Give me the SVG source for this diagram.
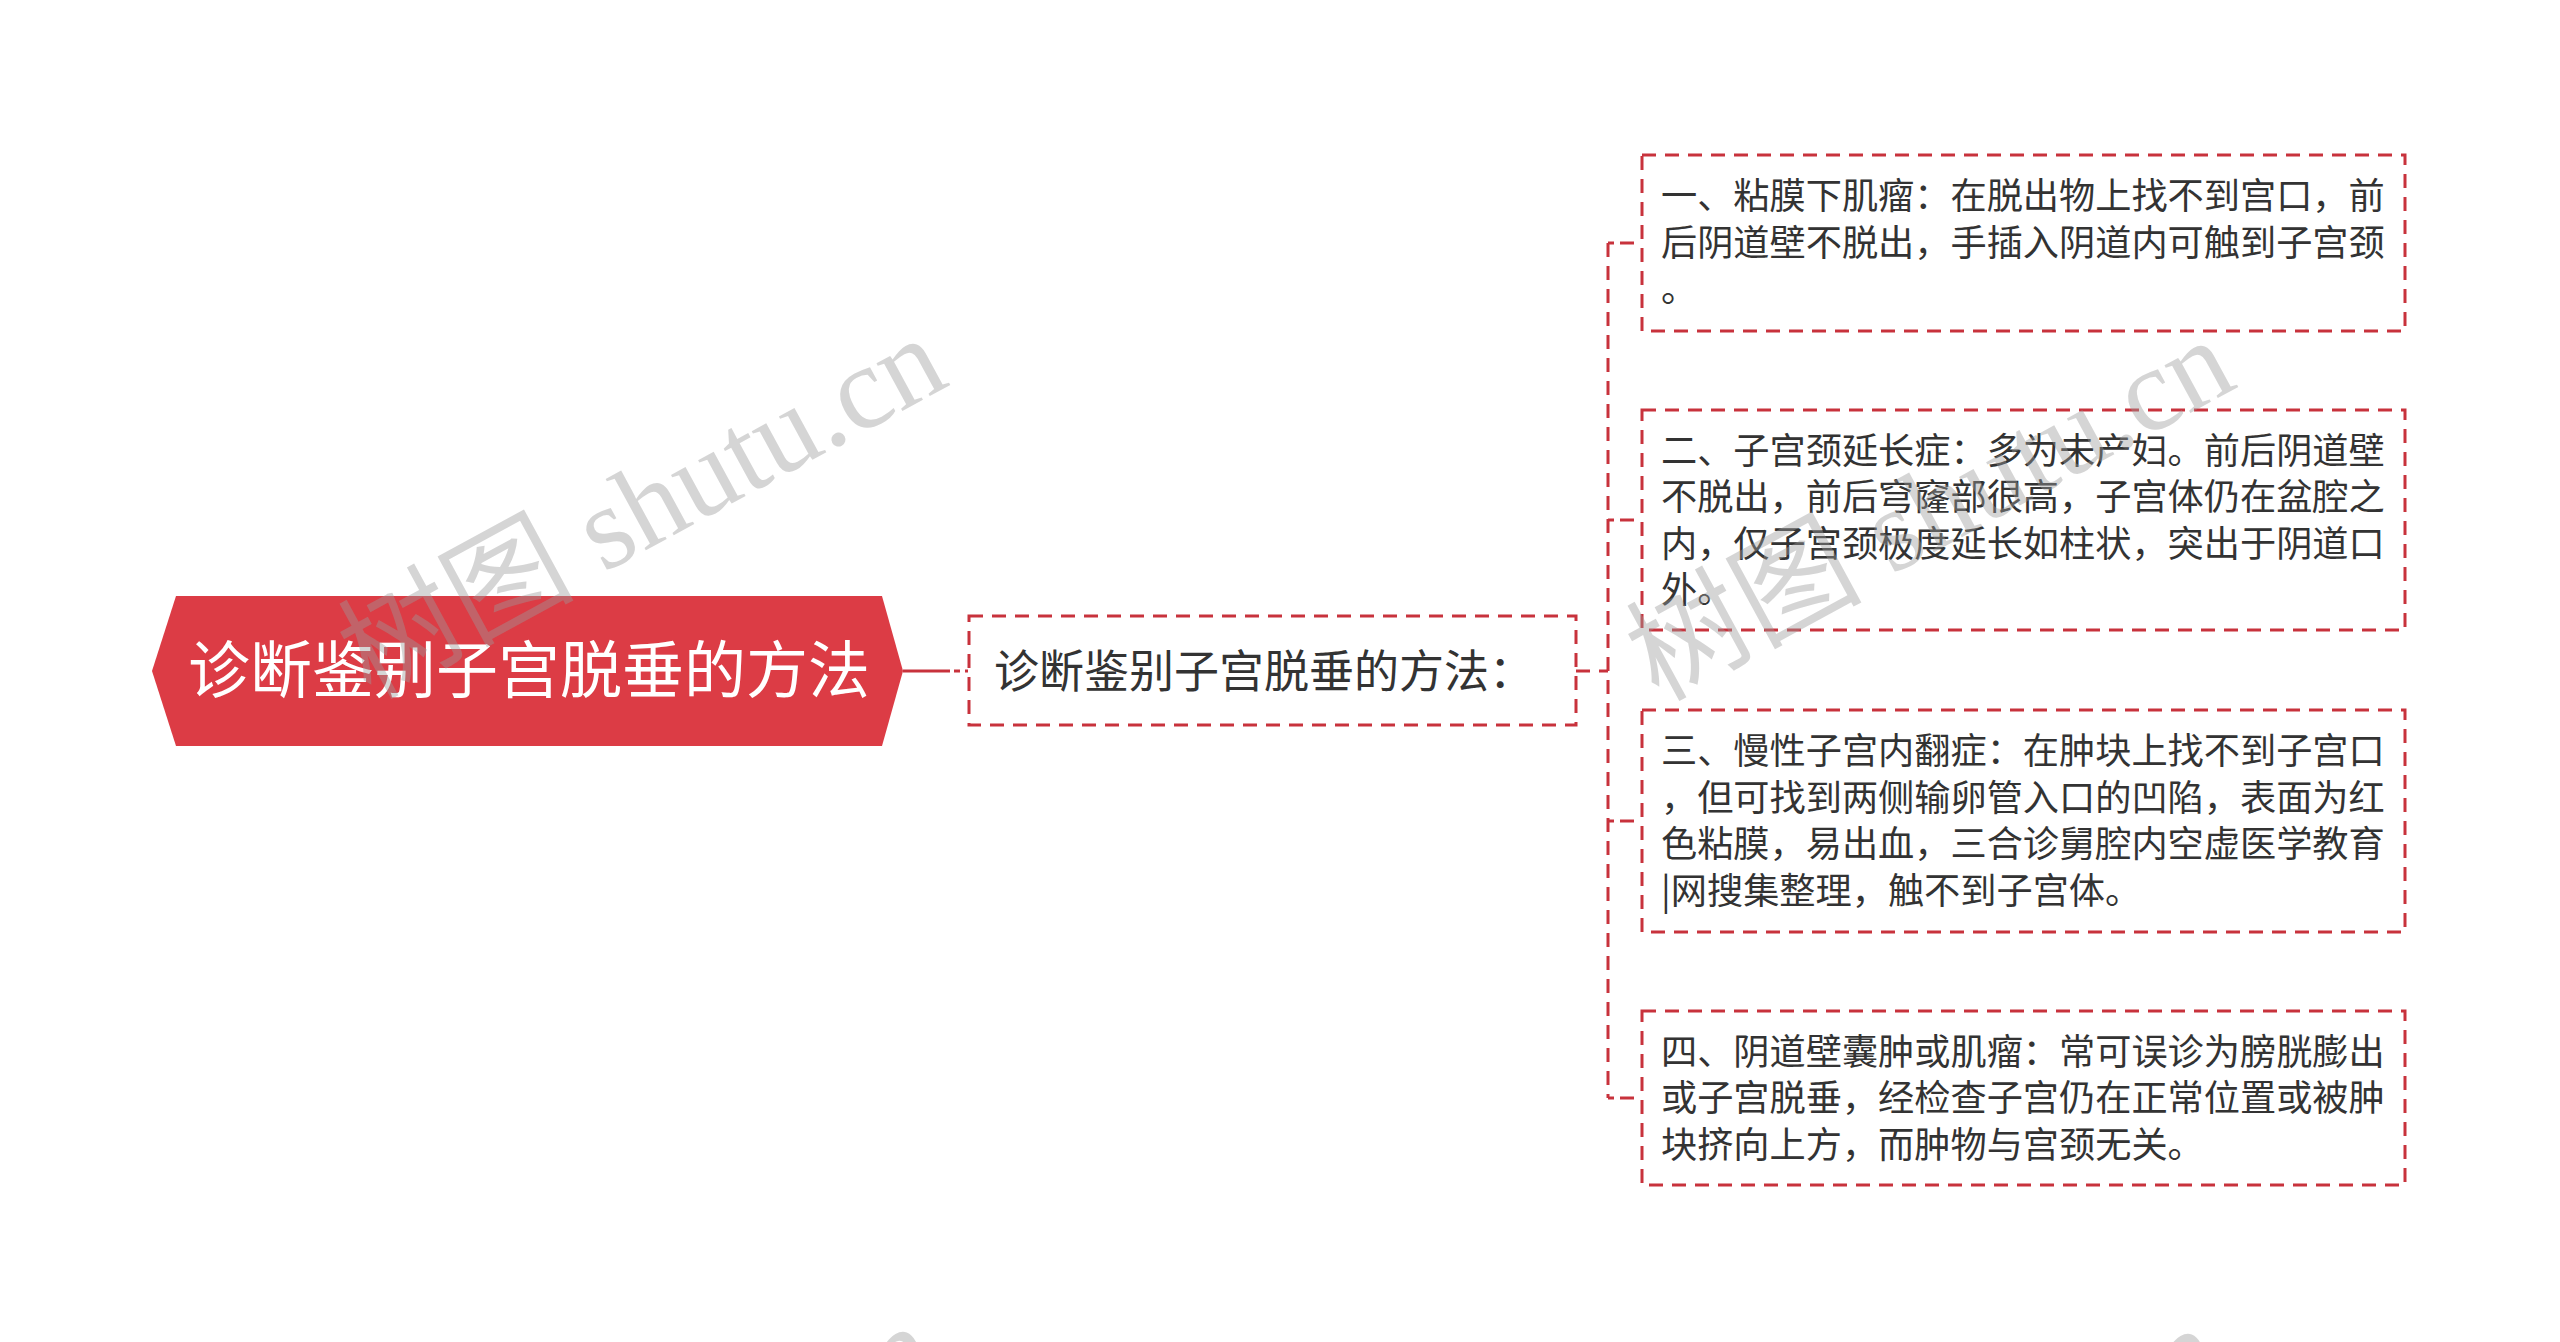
<svg xmlns="http://www.w3.org/2000/svg" width="2560" height="1342" viewBox="0 0 2560 1342">
<style>
.dash{fill:none;stroke:#c8323c;stroke-width:3;stroke-dasharray:14 9}
.leaf{fill:#ffffff;stroke:#c8323c;stroke-width:3;stroke-dasharray:14 9}
.lt{font-family:"Noto Sans CJK SC","Noto Sans",sans-serif;font-size:36.2px;fill:#333333}
.wm{font-family:"Liberation Serif","Noto Sans CJK SC",serif;font-size:118px;fill:#9a9a9a;fill-opacity:0.42}
</style>
<rect width="2560" height="1342" fill="#ffffff"/>
<g id="connectors">
<path d="M903 671 H950" stroke="#c8323c" stroke-width="3" fill="none"/>
<path d="M954 671 H968" class="dash" style="stroke-dasharray:6 5"/>
<path d="M1576 671 H1608" class="dash"/>
<path d="M1608 243 V1098" class="dash"/>
<path d="M1608 243 H1642" class="dash" style="stroke-dasharray:6 6 14 9"/>
<path d="M1608 520 H1642" class="dash" style="stroke-dasharray:6 6 14 9"/>
<path d="M1608 821 H1642" class="dash" style="stroke-dasharray:6 6 14 9"/>
<path d="M1608 1098 H1642" class="dash" style="stroke-dasharray:6 6 14 9"/>
</g>
<g id="root">
<polygon points="152,671 176,596 882,596 903,671 882,746 176,746" fill="#dc3c45"/>
<text x="529" y="693" text-anchor="middle" font-family="Noto Sans CJK SC, Noto Sans, sans-serif" font-size="62" fill="#ffffff">诊断鉴别子宫脱垂的方法</text>
</g>
<g id="child">
<rect x="969" y="616" width="607" height="109" fill="#f0f2f5" class="dash"/>
<text x="994" y="688" font-family="Noto Sans CJK SC, Noto Sans, sans-serif" font-size="45" fill="#333333">诊断鉴别子宫脱垂的方法：</text>
</g>
<g id="leaf1">
<rect x="1642" y="155" width="763" height="176" class="leaf"/>
<text class="lt" x="1661" y="209">一、粘膜下肌瘤：在脱出物上找不到宫口，前</text>
<text class="lt" x="1661" y="256">后阴道壁不脱出，手插入阴道内可触到子宫颈</text>
<text class="lt" x="1661" y="302">。</text>
</g>
<g id="leaf2">
<rect x="1642" y="410" width="763" height="220" class="leaf"/>
<text class="lt" x="1661" y="464">二、子宫颈延长症：多为未产妇。前后阴道壁</text>
<text class="lt" x="1661" y="510">不脱出，前后穹窿部很高，子宫体仍在盆腔之</text>
<text class="lt" x="1661" y="557">内，仅子宫颈极度延长如柱状，突出于阴道口</text>
<text class="lt" x="1661" y="603">外。</text>
</g>
<g id="leaf3">
<rect x="1642" y="710" width="763" height="222" class="leaf"/>
<text class="lt" x="1661" y="764">三、慢性子宫内翻症：在肿块上找不到子宫口</text>
<text class="lt" x="1661" y="811">，但可找到两侧输卵管入口的凹陷，表面为红</text>
<text class="lt" x="1661" y="857">色粘膜，易出血，三合诊舅腔内空虚医学教育</text>
<text class="lt" x="1661" y="904">|网搜集整理，触不到子宫体。</text>
</g>
<g id="leaf4">
<rect x="1642" y="1011" width="763" height="174" class="leaf"/>
<text class="lt" x="1661" y="1065">四、阴道壁囊肿或肌瘤：常可误诊为膀胱膨出</text>
<text class="lt" x="1661" y="1111">或子宫脱垂，经检查子宫仍在正常位置或被肿</text>
<text class="lt" x="1661" y="1158">块挤向上方，而肿物与宫颈无关。</text>
</g>
<g id="watermarks">
<text class="wm" transform="translate(370 700) rotate(-28.5)">树图 shutu.cn</text>
<text class="wm" transform="translate(1658 702) rotate(-28.5)">树图 shutu.cn</text>
<text class="wm" transform="translate(360 1688) rotate(-28.5)">树图 shutu.cn</text>
<text class="wm" transform="translate(1645 1690) rotate(-28.5)">树图 shutu.cn</text>
</g>
</svg>
